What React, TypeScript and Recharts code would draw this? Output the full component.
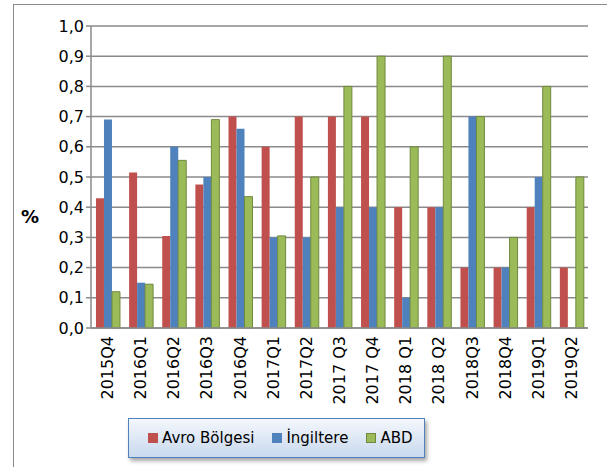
import React from 'react';
import { BarChart, Bar, XAxis, YAxis, CartesianGrid, Legend } from 'recharts';

const quarters = [
  '2015Q4', '2016Q1', '2016Q2', '2016Q3', '2016Q4', '2017Q1', '2017Q2', '2017 Q3',
  '2017 Q4', '2018 Q1', '2018 Q2', '2018Q3', '2018Q4', '2019Q1', '2019Q2',
];
const avro = [0.43, 0.515, 0.305, 0.475, 0.7, 0.6, 0.7, 0.7, 0.7, 0.4, 0.4, 0.2, 0.2, 0.4, 0.2];
const ingiltere = [0.69, 0.15, 0.6, 0.5, 0.66, 0.3, 0.3, 0.4, 0.4, 0.1, 0.4, 0.7, 0.2, 0.5, 0];
const abd = [0.12, 0.145, 0.555, 0.69, 0.435, 0.305, 0.5, 0.8, 0.9, 0.6, 0.9, 0.7, 0.3, 0.8, 0.5];
const yTicks = [0, 0.1, 0.2, 0.3, 0.4, 0.5, 0.6, 0.7, 0.8, 0.9, 1];
const boundaryTicks = quarters.map((_, i) => i).concat(quarters.length);

const data = quarters.map((q, i) => ({
  name: q,
  avro: avro[i],
  ingiltere: ingiltere[i],
  abd: abd[i],
}));

const FONT = '"DejaVu Sans", sans-serif';
const GRID = '#8a8a8a';

const legendItems = [
  { label: 'Avro Bölgesi', fill: '#C0504D', stroke: '#C0504D' },
  { label: 'İngiltere', fill: '#4F81BD', stroke: '#4F81BD' },
  { label: 'ABD', fill: '#9BBB59', stroke: '#71893F' },
];

const QuarterTick = (props: any) => {
  const { x, y, payload } = props;
  const ty = y + 5;
  return (
    <text
      x={x}
      y={ty}
      transform={`rotate(-90, ${x}, ${ty})`}
      textAnchor="end"
      dominantBaseline="central"
      fontSize={16}
      fontFamily={FONT}
      fill="#000"
    >
      {payload.value}
    </text>
  );
};

const LegendBox = () => (
  <div
    style={{
      width: 297,
      height: 40,
      boxSizing: 'border-box',
      border: '1.5px solid #4F81BD',
      background: 'linear-gradient(to bottom, #f4f7fc, #c9d9ee)',
      boxShadow: '2px 3px 4px rgba(0,0,0,0.35)',
      display: 'flex',
      alignItems: 'center',
      paddingLeft: 19,
      fontFamily: FONT,
      fontSize: 15,
      color: '#000',
      whiteSpace: 'nowrap',
    }}
  >
    {legendItems.map((it) => (
      <span key={it.label} style={{ display: 'flex', alignItems: 'center', marginRight: 18 }}>
        <span
          style={{
            display: 'inline-block',
            width: 10,
            height: 10,
            boxSizing: 'border-box',
            background: it.fill,
            border: `1px solid ${it.stroke}`,
            marginRight: 4,
          }}
        />
        {it.label}
      </span>
    ))}
  </div>
);

export default function App() {
  return (
    <div style={{ position: 'absolute', left: 0, top: 0, width: 607, height: 467, background: '#fff' }}>
      <div
        style={{
          position: 'absolute',
          left: 13,
          top: 4,
          right: 0,
          bottom: 0,
          borderLeft: '1.5px solid #8a8a8a',
          borderTop: '1.5px solid #8a8a8a',
        }}
      />
      <div style={{ position: 'absolute', left: 0, top: 0 }}>
        <BarChart
          width={607}
          height={467}
          data={data}
          margin={{ top: 26, right: 19, left: 0, bottom: 0 }}
          barGap={0}
          barCategoryGap="15%"
        >
          <CartesianGrid xAxisId="cat" horizontal vertical={false} stroke={GRID} strokeWidth={1.5} />
          <XAxis
            xAxisId="a"
            type="number"
            domain={[0, quarters.length]}
            ticks={boundaryTicks}
            tick={false}
            tickLine={{ stroke: GRID, strokeWidth: 1.5 }}
            tickSize={5}
            axisLine={{ stroke: GRID, strokeWidth: 1.5 }}
            height={1}
          />
          <XAxis
            xAxisId="cat"
            dataKey="name"
            interval={0}
            tick={<QuarterTick />}
            tickLine={false}
            tickSize={0}
            axisLine={false}
            height={98}
          />
          <YAxis
            domain={[0, 1]}
            ticks={yTicks}
            interval={0}
            width={91}
            tickSize={5}
            tickLine={{ stroke: GRID, strokeWidth: 1.5 }}
            axisLine={{ stroke: GRID, strokeWidth: 1.5 }}
            tick={{ fontSize: 16, fontFamily: FONT, fill: '#000' }}
            tickFormatter={(v: number) => v.toFixed(1).replace('.', ',')}
            label={{
              value: '%',
              position: 'insideLeft',
              offset: 21,
              dy: 40,
              style: { fontSize: 18, fontWeight: 'bold', fontFamily: FONT, fill: '#000', textAnchor: 'start' },
            }}
          />
          <Legend
            verticalAlign="bottom"
            content={<LegendBox />}
            wrapperStyle={{ left: 128, top: 418, bottom: 'auto', width: 297 }}
          />
          <Bar xAxisId="cat" dataKey="avro" name="Avro Bölgesi" fill="#C0504D" isAnimationActive={false} />
          <Bar xAxisId="cat" dataKey="ingiltere" name="İngiltere" fill="#4F81BD" isAnimationActive={false} />
          <Bar xAxisId="cat" dataKey="abd" name="ABD" fill="#9BBB59" stroke="#71893F" strokeWidth={1} isAnimationActive={false} />
        </BarChart>
      </div>
    </div>
  );
}
